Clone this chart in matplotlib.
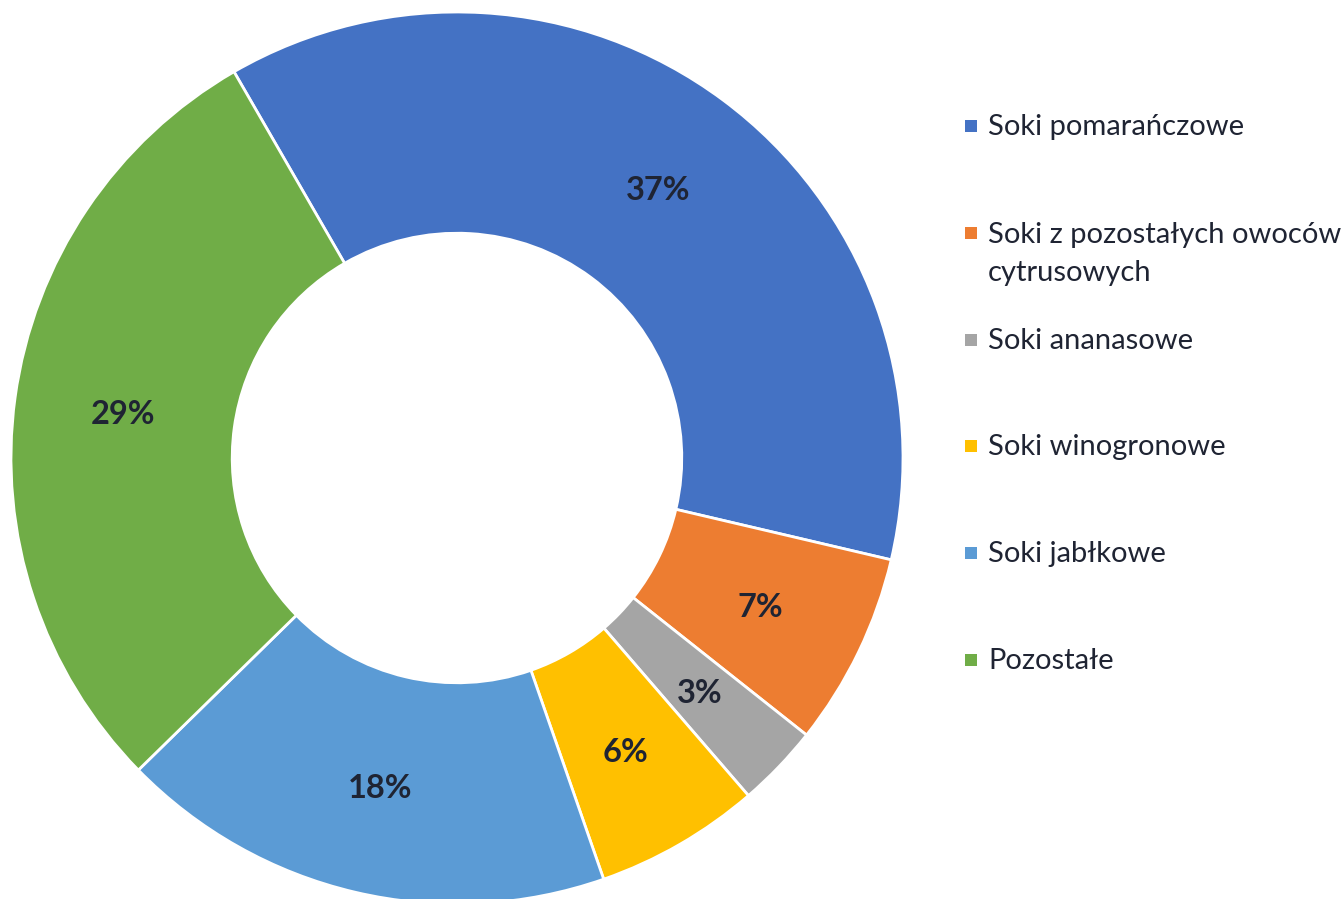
import matplotlib.pyplot as plt
from matplotlib.patches import Rectangle

categories = ['Soki pomarańczowe', 'Soki z pozostałych owoców\ncytrusowych',
              'Soki ananasowe', 'Soki winogronowe', 'Soki jabłkowe', 'Pozostałe']
shares = [37, 7, 3, 6, 18, 29]
colors = ['#4472C4', '#ED7D31', '#A5A5A5', '#FFC000', '#5B9BD5', '#70AD47']

text_color = '#1f2433'
plt.rcParams['font.family'] = ['Lato', 'DejaVu Sans']

W, H = 1342, 899
fig = plt.figure(figsize=(W / 100, H / 100), dpi=100)

# donut: center (457, 458) px, radius 446 px
cx, cy, r = 457, 458, 446
ax = fig.add_axes([(cx - r) / W, (H - cy - r) / H, 2 * r / W, 2 * r / H])
wedges, texts, autotexts = ax.pie(
    shares, colors=colors, startangle=120, counterclock=False,
    autopct='%d%%', pctdistance=0.755, radius=1,
    wedgeprops=dict(width=0.496, edgecolor='white', linewidth=2),
    textprops=dict(color=text_color, fontsize=23.5, fontweight='bold'))
for t in autotexts:
    t.set_verticalalignment('center_baseline')
ax.set_xlim(-1, 1)
ax.set_ylim(-1, 1)
ax.set_axis_off()

# legend drawn by hand so wrapped label keeps marker on first line
row_y = [125, 232, 339, 445, 552, 659]
line_gap = 39
for label, col, y in zip(categories, colors, row_y):
    fig.patches.append(Rectangle((965 / W, 1 - (y + 7) / H), 12 / W, 12 / H,
                                 transform=fig.transFigure, facecolor=col,
                                 edgecolor='none'))
    # baseline alignment uses the last line of a wrapped label
    base = y + 10 + line_gap * label.count('\n')
    fig.text(988 / W, 1 - base / H, label, ha='left', va='baseline',
             fontsize=21, color=text_color, linespacing=1.57)

fig.savefig('out.png', dpi=100)
